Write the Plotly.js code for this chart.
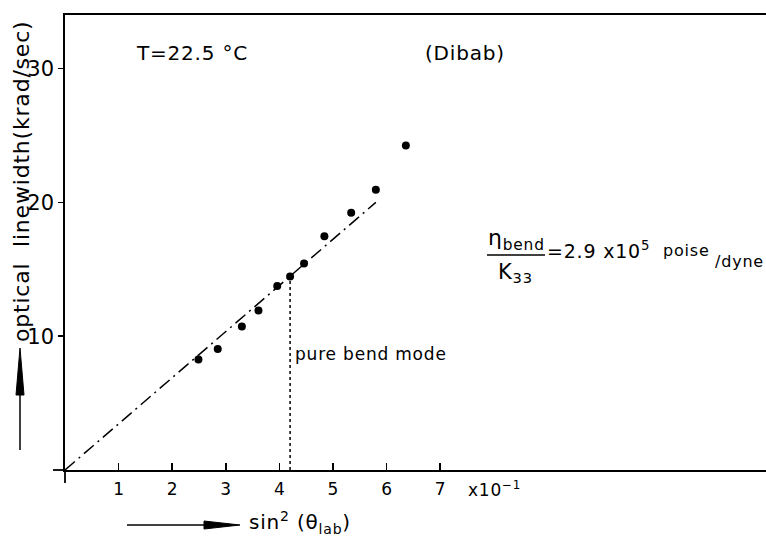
<!DOCTYPE html>
<html>
<head>
<meta charset="utf-8">
<script src="https://cdn.plot.ly/plotly-3.0.1.min.js"></script>
<style>
html,body{margin:0;padding:0;background:#fff;}
#chart{width:766px;height:538px;}
.annotation-text{letter-spacing:0.8px;}
</style>
</head>
<body>
<div id="chart"></div>
<script>
// sin^2(theta_lab) in units of 10^-1
const sin2Theta = [2.49, 2.85, 3.30, 3.61, 3.96, 4.20, 4.46, 4.84, 5.34, 5.80, 6.36];
// optical linewidth (krad/sec)
const linewidth = [8.26, 9.05, 10.72, 11.92, 13.75, 14.46, 15.43, 17.46, 19.23, 20.95, 24.25];
// dash-dot fit line
const fitX = [0, 5.8];
const fitY = [0, 20.0];
// pure bend mode marker
const bendX = [4.2, 4.2];
const bendY = [0, 14.3];
const xTicks = [1, 2, 3, 4, 5, 6, 7];
const yTicks = [10, 20, 30];

const W = 766, H = 538, ML = 65, MR = 0, MT = 15, MB = 68;
const PW = W - ML - MR, PH = H - MT - MB;
const px = p => (p - ML) / PW;
const py = p => (H - MB - p) / PH;
const FONT = 'DejaVu Sans, sans-serif';

const traces = [
  {x: fitX, y: fitY, mode: 'lines', line: {color: '#000', width: 1.5, dash: '13px,5px,2px,5px'}, hoverinfo: 'skip'},
  {x: bendX, y: bendY, mode: 'lines', line: {color: '#000', width: 1.5, dash: '3px,3px'}, hoverinfo: 'skip'},
  {x: sin2Theta, y: linewidth, mode: 'markers', marker: {color: '#000', size: 8}}
];

const ann = (text, x, y, size, opts) => Object.assign({
  text: text, xref: 'paper', yref: 'paper', x: px(x), y: py(y), showarrow: false,
  font: {family: FONT, size: size, color: '#000'}, xanchor: 'center', yanchor: 'middle'
}, opts || {});

const annotations = [
  ann('T=22.5 °C', 192, 53, 20),
  ann('(Dibab)', 465, 53, 20),
  {text: 'pure bend mode', x: 4.25, y: 8.65, xref: 'x', yref: 'y', showarrow: false,
   xanchor: 'left', yanchor: 'middle', font: {family: FONT, size: 17, color: '#000'}},
  ann('η<sub>bend</sub>', 516, 256, 22, {yanchor: 'bottom'}),
  ann('K<sub>33</sub>', 515, 258, 21, {yanchor: 'top'}),
  ann('=2.9 x10<sup>5</sup>', 545, 250, 19, {xanchor: 'left'}),
  ann('poise', 661, 251, 16, {xanchor: 'left'}),
  ann('/dyne', 713, 261, 16, {xanchor: 'left'}),
  ann('x10<sup>−1</sup>', 466, 489, 17, {xanchor: 'left'}),
  ann('sin<sup>2</sup> (θ<sub>lab</sub>)', 247, 522, 20, {xanchor: 'left'}),
  ann('optical  linewidth(krad/sec)', 21, 182, 22, {textangle: -90})
];

const shapes = [
  // fraction bar
  {type: 'line', xref: 'paper', yref: 'paper', x0: px(487), x1: px(545), y0: py(255), y1: py(255), line: {color: '#000', width: 1.5}},
  // axis stubs beyond origin
  {type: 'line', xref: 'paper', yref: 'paper', x0: px(53), x1: px(65), y0: py(470), y1: py(470), line: {color: '#000', width: 1.8}},
  {type: 'line', xref: 'paper', yref: 'paper', x0: px(65), x1: px(65), y0: py(470), y1: py(483), line: {color: '#000', width: 1.8}},
  // up arrow
  {type: 'line', xref: 'paper', yref: 'paper', x0: px(20), x1: px(20), y0: py(450), y1: py(390), line: {color: '#000', width: 1.5}},
  {type: 'path', xref: 'paper', yref: 'paper',
   path: 'M ' + px(20) + ' ' + py(348) + ' L ' + px(24) + ' ' + py(395) + ' L ' + px(16) + ' ' + py(395) + ' Z',
   fillcolor: '#000', line: {color: '#000', width: 1}},
  // right arrow
  {type: 'line', xref: 'paper', yref: 'paper', x0: px(127), x1: px(210), y0: py(525), y1: py(525), line: {color: '#000', width: 1.5}},
  {type: 'path', xref: 'paper', yref: 'paper',
   path: 'M ' + px(240) + ' ' + py(525) + ' L ' + px(204) + ' ' + py(521) + ' L ' + px(204) + ' ' + py(529) + ' Z',
   fillcolor: '#000', line: {color: '#000', width: 1}}
];

const layout = {
  width: W, height: H,
  margin: {l: ML, r: MR, t: MT, b: MB, pad: 0},
  paper_bgcolor: '#fff', plot_bgcolor: '#fff',
  showlegend: false,
  font: {family: FONT, color: '#000'},
  xaxis: {
    range: [0, 13.08], showgrid: false, zeroline: false,
    showline: true, linecolor: '#000', linewidth: 1.8, mirror: true,
    ticks: 'inside', ticklen: 7, tickwidth: 1.5, tickcolor: '#000',
    tickvals: xTicks, ticktext: xTicks.map(String),
    tickfont: {family: FONT, size: 17, color: '#000'}, ticklabelstandoff: 3
  },
  yaxis: {
    range: [0, 34], showgrid: false, zeroline: false,
    showline: true, linecolor: '#000', linewidth: 1.8, mirror: false,
    ticks: 'outside', ticklen: 5, tickwidth: 1.5, tickcolor: '#000',
    tickvals: yTicks, ticktext: yTicks.map(String),
    tickfont: {family: FONT, size: 21, color: '#000'}
  },
  annotations: annotations,
  shapes: shapes
};

Plotly.newPlot('chart', traces, layout, {displayModeBar: false, staticPlot: true});
</script>
</body>
</html>
